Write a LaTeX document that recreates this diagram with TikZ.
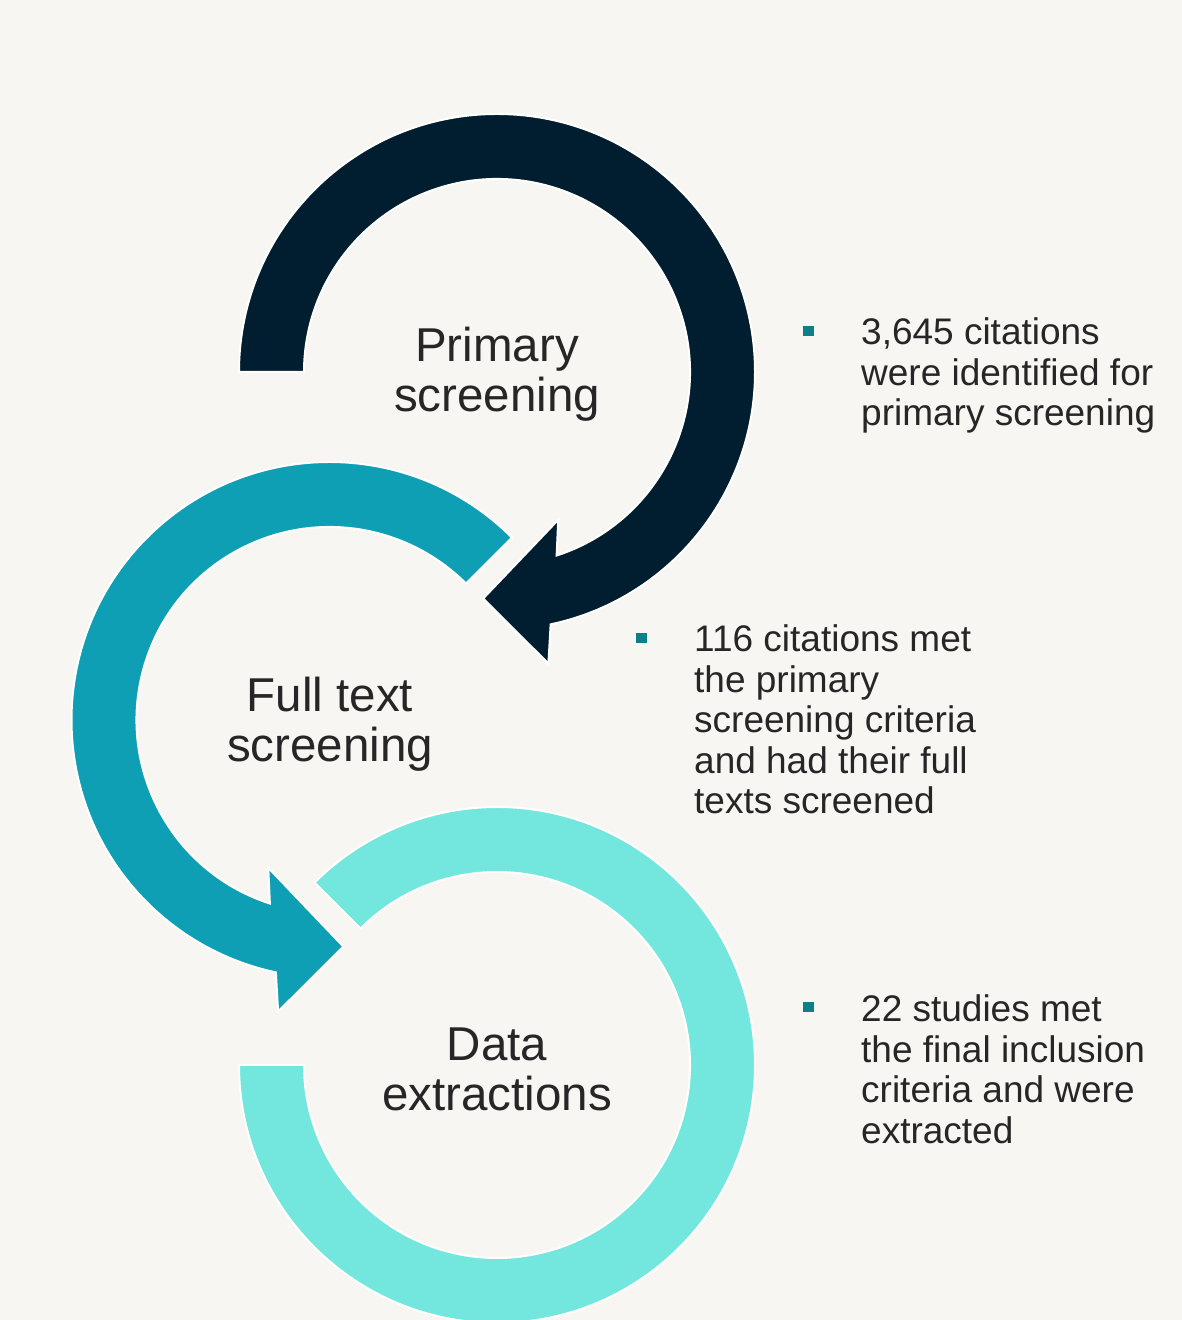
\documentclass[tikz,border=0pt]{standalone}
\usepackage{fontspec}
\setmainfont{Liberation Sans}
\usepackage{xcolor}
\definecolor{flowNavy}{RGB}{0, 30, 48}
\definecolor{flowTeal}{RGB}{14, 159, 181}
\definecolor{flowAqua}{RGB}{115, 231, 221}
\definecolor{flowMark}{RGB}{12, 128, 136}
\definecolor{flowText}{RGB}{38, 38, 38}
\definecolor{flowPaper}{RGB}{247, 246, 242}

\begin{document}
\begin{tikzpicture}[x=1pt, y=1pt,
    ring/.style={draw=white, line width=2pt, line join=miter},
    stage/.style={text=flowText, align=center, inner sep=0pt, anchor=base, font=\fontsize{47.5}{50}\selectfont},
    note/.style={text=flowText, align=left, inner sep=0pt, anchor=base west, font=\fontsize{37}{40.5}\selectfont},
    notemark/.style={fill=flowMark, minimum width=11pt, minimum height=10pt, inner sep=0pt}]
    \useasboundingbox (0,0) rectangle (1182,1320);
    \fill[flowPaper] (0,0) rectangle (1182,1320);

    % data extractions ring
    \begin{scope}[shift={(497,255)}]
        \filldraw[ring, fill=flowAqua] (180:258) arc[start angle=180, end angle=495, radius=258]
            -- (495:193) arc[start angle=495, end angle=180, radius=193] -- cycle;
    \end{scope}

    % full text screening ring
    \begin{scope}[shift={(329.5,600)}]
        \filldraw[ring, fill=flowTeal] (45:258) arc[start angle=45, end angle=258, radius=258]
            -- (260:296) -- (273.5:227) -- (247.5:160) -- (252:193)
            arc[start angle=252, end angle=45, radius=193] -- cycle;
    \end{scope}

    % primary screening ring
    \begin{scope}[shift={(497,948)}]
        \filldraw[ring, fill=flowNavy] (180:258) arc[start angle=180, end angle=-78, radius=258]
            -- (-80:296) -- (-93.5:227) -- (-67.5:160) -- (-72:193)
            arc[start angle=-72, end angle=180, radius=193] -- cycle;
    \end{scope}

    % labels sit on the baseline of their last line
    \node[stage] (primary) at (497,908.5) {Primary\\screening};
    \node[stage] (fulltext) at (330,558) {Full text\\screening};
    \node[stage] (extract) at (497,209) {Data\\extractions};

    \node[notemark] (mark1) at (808.5,989) {};
    \node[note] (note1) at (861,894) {3,645 citations\\were identified for\\primary screening};
    \node[notemark] (mark2) at (641.5,682) {};
    \node[note] (note2) at (694,506) {116 citations met\\the primary\\screening criteria\\and had their full\\texts screened};
    \node[notemark] (mark3) at (808.5,312.5) {};
    \node[note] (note3) at (861,176.5) {22 studies met\\the final inclusion\\criteria and were\\extracted};
\end{tikzpicture}
\end{document}
